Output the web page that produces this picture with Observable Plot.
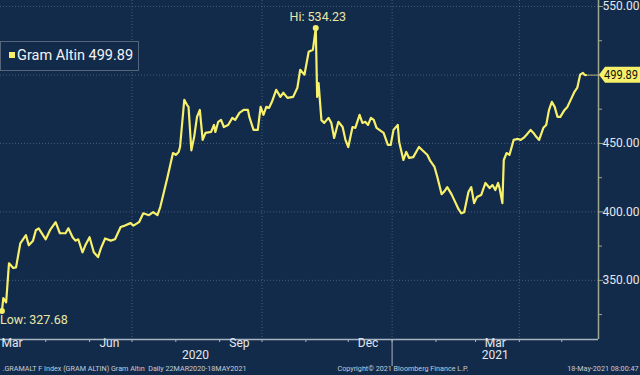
<!DOCTYPE html>
<html>
<head>
<meta charset="utf-8">
<script src="https://cdn.jsdelivr.net/npm/d3@7"></script>
<script src="https://cdn.jsdelivr.net/npm/@observablehq/plot@0.6"></script>
<style>
  html, body { margin: 0; padding: 0; background: #132b4a; }
  #wrap { position: relative; width: 640px; height: 375px; background: #132b4a; overflow: hidden; font-family: Roboto, "DejaVu Sans", sans-serif; }
  #legend { position: absolute; left: 0px; top: 41px; width: 137px; height: 28px; border: 1px solid #56677c; background: #132b4a; color: #f2f2f2; font-size: 14.5px; line-height: 28px; white-space: nowrap; }
  #legend .sw { display: inline-block; width: 6px; height: 6px; background: #f7f06a; margin-left: 8px; margin-right: 2px; vertical-align: 2px; }
</style>
</head>
<body>
<div id="wrap"><div id="chart"></div><div id="legend"><span class="sw"></span>Gram Altin 499.89</div></div>
<script>
const seriesName = "Gram Altin";
const dates = [
"2020-03-31","2020-04-01","2020-04-03","2020-04-05","2020-04-08","2020-04-10","2020-04-13","2020-04-17","2020-04-19","2020-04-22",
"2020-04-24","2020-04-26","2020-05-01","2020-05-04","2020-05-08","2020-05-11","2020-05-15","2020-05-17","2020-05-20","2020-05-22",
"2020-05-24","2020-05-27","2020-05-29","2020-06-01","2020-06-04","2020-06-07","2020-06-09","2020-06-12","2020-06-16","2020-06-19",
"2020-06-23","2020-06-26","2020-06-30","2020-07-02","2020-07-06","2020-07-09","2020-07-13","2020-07-16","2020-07-19","2020-07-21",
"2020-07-23","2020-07-26","2020-07-30","2020-08-01","2020-08-03","2020-08-04","2020-08-07","2020-08-09","2020-08-10","2020-08-12",
"2020-08-14","2020-08-16","2020-08-18","2020-08-20","2020-08-22","2020-08-26","2020-08-28","2020-08-29","2020-08-31","2020-09-02",
"2020-09-04","2020-09-07","2020-09-10","2020-09-12","2020-09-15","2020-09-18","2020-09-21","2020-09-22","2020-09-25","2020-09-28",
"2020-09-30","2020-10-02","2020-10-04","2020-10-06","2020-10-08","2020-10-11","2020-10-14","2020-10-16","2020-10-19","2020-10-23",
"2020-10-26","2020-10-28","2020-10-31","2020-11-03","2020-11-06","2020-11-08","2020-11-09","2020-11-10","2020-11-12","2020-11-14",
"2020-11-17","2020-11-19","2020-11-21","2020-11-24","2020-11-27","2020-11-29","2020-12-01","2020-12-04","2020-12-06","2020-12-09",
"2020-12-11","2020-12-13","2020-12-15","2020-12-17","2020-12-19","2020-12-21","2020-12-23","2020-12-26","2020-12-29","2020-12-31",
"2021-01-02","2021-01-05","2021-01-06","2021-01-09","2021-01-11","2021-01-13","2021-01-16","2021-01-18","2021-01-20","2021-01-23",
"2021-01-26","2021-01-28","2021-01-31","2021-02-02","2021-02-05","2021-02-07","2021-02-09","2021-02-12","2021-02-14","2021-02-17",
"2021-02-19","2021-02-21","2021-02-24","2021-02-26","2021-02-28","2021-03-02","2021-03-05","2021-03-08","2021-03-11","2021-03-13",
"2021-03-15","2021-03-17","2021-03-18","2021-03-20","2021-03-21","2021-03-23","2021-03-25","2021-03-28","2021-03-31","2021-04-02",
"2021-04-04","2021-04-06","2021-04-09","2021-04-11","2021-04-13","2021-04-15","2021-04-18","2021-04-20","2021-04-22","2021-04-24",
"2021-04-26","2021-04-28","2021-04-30","2021-05-03","2021-05-05","2021-05-08","2021-05-10","2021-05-12","2021-05-14","2021-05-16",
"2021-05-17","2021-05-18"
];
const values = [
327.68,337,334,362.5,359,359.5,377,383,375.6,379,
386.6,388,380,386.6,392.5,384.4,384.4,388,381.5,379,
380,370.5,375.6,381.5,370.5,367,373.4,380.6,379,380,
389,390,391.8,390,392.5,399,397.6,399.8,397.6,403.5,
412,424.7,443,441.6,443.8,447.4,481.9,478,476.7,445,
454.8,469.4,474.5,452.6,457.7,458.4,463.5,458.4,465.8,467.2,
462,463.5,468.7,467.2,472.3,474.5,474.5,469.4,459.9,459.9,
476.7,470.9,476.7,476,480.4,489.2,484,487,483.3,484,
490.7,503.8,500.2,517,518.5,534.23,484,494,467,465,
468.7,465,454,465.8,462,452.6,447.4,462,461.4,470.9,
465,465.8,463.5,468.7,467.2,461.4,459.9,457.7,448.9,448.9,
459.9,463.5,451,437.9,443.8,439.4,440,443.8,447.4,444.5,
441.6,437.2,432.8,425.5,413,415,418.1,413,408.6,402,
399,399.8,414.5,418.1,406.4,410.8,412.3,421.1,417.4,419.6,
416,421.1,417.4,406.4,437.9,443,441.6,452.6,453.3,452.6,
454,456.2,459.9,457.7,454.8,452.6,461.4,463.5,474.5,480.4,
476.7,469.4,469.4,474.5,476.7,483.3,487.7,490.7,500.2,501.6,
500.2,499.89
];
const yMajorTicks = [350, 400, 450, 500, 550];
const yLabelTicks = [350, 400, 450, 550];
const yMinorTicks = [325, 375, 425, 475, 525];
const monthLabels = [["2020-06-15","Jun"],["2020-09-15","Sep"],["2020-12-15","Dec"],["2021-03-15","Mar"]];
const firstMonthLabel = "Mar";
const gridDates = ["2020-07-01","2020-10-01","2021-01-01","2021-04-01"];
const yearLabels = [["2020-08-15","2020"],["2021-03-15","2021"]];
const yearBreak = "2021-01-01";
const footLeft = ".GRAMALT F Index (GRAM ALTIN) Gram Altın  Daily 22MAR2020-18MAY2021";
const footMid = "Copyright\u00A9 2021 Bloomberg Finance L.P.";
const footRight = "18-May-2021 08:00:47";

const data = dates.map((d, i) => ({date: new Date(d), value: values[i]}));
const xStart = new Date("2020-03-30"), xEnd = new Date("2021-05-27");
const yMin = 306.8, yMax = 554.4;
const hi = data.reduce((a, b) => b.value > a.value ? b : a);
const lo = data.reduce((a, b) => b.value < a.value ? b : a);
const last = data[data.length - 1];

const YEL = "#f7f06a";
const AX = "#9ea98a";
const GRID = "#6f84a3";
const TXT = "#e4e7ec";
const FONT = "Roboto, 'DejaVu Sans', sans-serif";

const chart = Plot.plot({
  width: 640, height: 375,
  marginLeft: 0, marginRight: 42, marginTop: 0, marginBottom: 36,
  style: {background: "transparent", fontFamily: FONT, overflow: "visible"},
  x: {type: "utc", domain: [xStart, xEnd], axis: null, label: null},
  y: {domain: [yMin, yMax], axis: null, label: null},
  marks: [
    Plot.gridY(yMajorTicks, {stroke: GRID, strokeOpacity: 0.55, strokeDasharray: "1,2"}),
    Plot.gridX(gridDates.map(d => new Date(d)), {stroke: GRID, strokeOpacity: 0.55, strokeDasharray: "1,2"}),
    Plot.ruleY([yMin], {stroke: "#a9b4c2", strokeWidth: 1.5}),
    Plot.ruleX([xEnd], {stroke: AX, strokeWidth: 1.5}),
    Plot.axisY(yMajorTicks, {anchor: "right", label: null, tickSize: 4, tickPadding: 0, stroke: AX, tickFormat: d => yLabelTicks.includes(d) ? d.toFixed(2) : "", fill: TXT, fontSize: 12}),
    Plot.axisY(yMinorTicks, {anchor: "right", label: null, tickSize: 3, stroke: AX, tickFormat: () => ""}),
    Plot.axisX(d3.utcMonth.range(new Date("2020-04-01"), xEnd), {anchor: "bottom", label: null, tickSize: 3, stroke: "#a9b4c2", tickFormat: () => ""}),
    Plot.text(monthLabels, {x: d => new Date(d[0]), text: d => d[1], frameAnchor: "bottom", dy: 7, fill: TXT, fontSize: 12}),
    Plot.text([xStart], {x: d => d, text: () => firstMonthLabel, frameAnchor: "bottom", dy: 7, dx: 1, textAnchor: "start", fill: TXT, fontSize: 12}),
    Plot.text(yearLabels, {x: d => new Date(d[0]), text: d => d[1], frameAnchor: "bottom", dy: 19.5, fill: TXT, fontSize: 12}),
    Plot.ruleX([new Date(yearBreak)], {stroke: "#a9b4c2", insetTop: 339, insetBottom: -27}),
    Plot.ruleY([last], {x1: "date", x2: () => xEnd, y: "value", stroke: "#b7b27a", strokeWidth: 1}),
    Plot.line(data, {x: "date", y: "value", stroke: YEL, strokeWidth: 2.2, curve: "linear"}),
    Plot.dot([hi, lo], {x: "date", y: "value", r: 3, fill: YEL, stroke: null}),
    Plot.text([hi], {x: "date", y: "value", text: d => "Hi: " + d.value.toFixed(2), dy: -11, dx: 2, fill: "#e9e7a6", fontSize: 12.5}),
    Plot.text([lo], {x: "date", y: "value", text: d => "Low: " + d.value.toFixed(2), dy: 9, dx: -2, textAnchor: "start", fill: "#e9e7a6", fontSize: 12.5}),
    Plot.text([footLeft], {text: d => d, frameAnchor: "bottom-left", dy: 31, dx: 2, fill: "#c6ccd6", fontSize: 7.2, textAnchor: "start"}),
    Plot.text([footMid], {text: d => d, frameAnchor: "bottom", dy: 31, dx: 38, fill: "#c6ccd6", fontSize: 7.2, textAnchor: "start"}),
    Plot.text([footRight], {text: d => d, frameAnchor: "bottom-right", dy: 31, dx: 40, textAnchor: "end", fill: "#c6ccd6", fontSize: 7.2})
  ]
});
document.getElementById("chart").appendChild(chart);

// last-value tag on the right axis, positioned by the plot's own scales
const sx = chart.scale("x"), sy = chart.scale("y");
const tx = sx.apply(xEnd) + 1, ty = sy.apply(last.value);
const g = d3.select(chart).append("g").attr("text-anchor", "start");
g.append("path")
  .attr("d", `M${tx},${ty} L${tx + 6},${ty - 8} L640,${ty - 8} L640,${ty + 8} L${tx + 6},${ty + 8} Z`)
  .attr("fill", YEL);
g.append("text").attr("x", tx + 5).attr("y", ty).attr("dy", "0.35em")
  .attr("text-anchor", "start")
  .attr("fill", "#111111").attr("font-size", 12).attr("font-family", FONT)
  .attr("textLength", 34).attr("lengthAdjust", "spacingAndGlyphs")
  .text(last.value.toFixed(2));
</script>
</body>
</html>
